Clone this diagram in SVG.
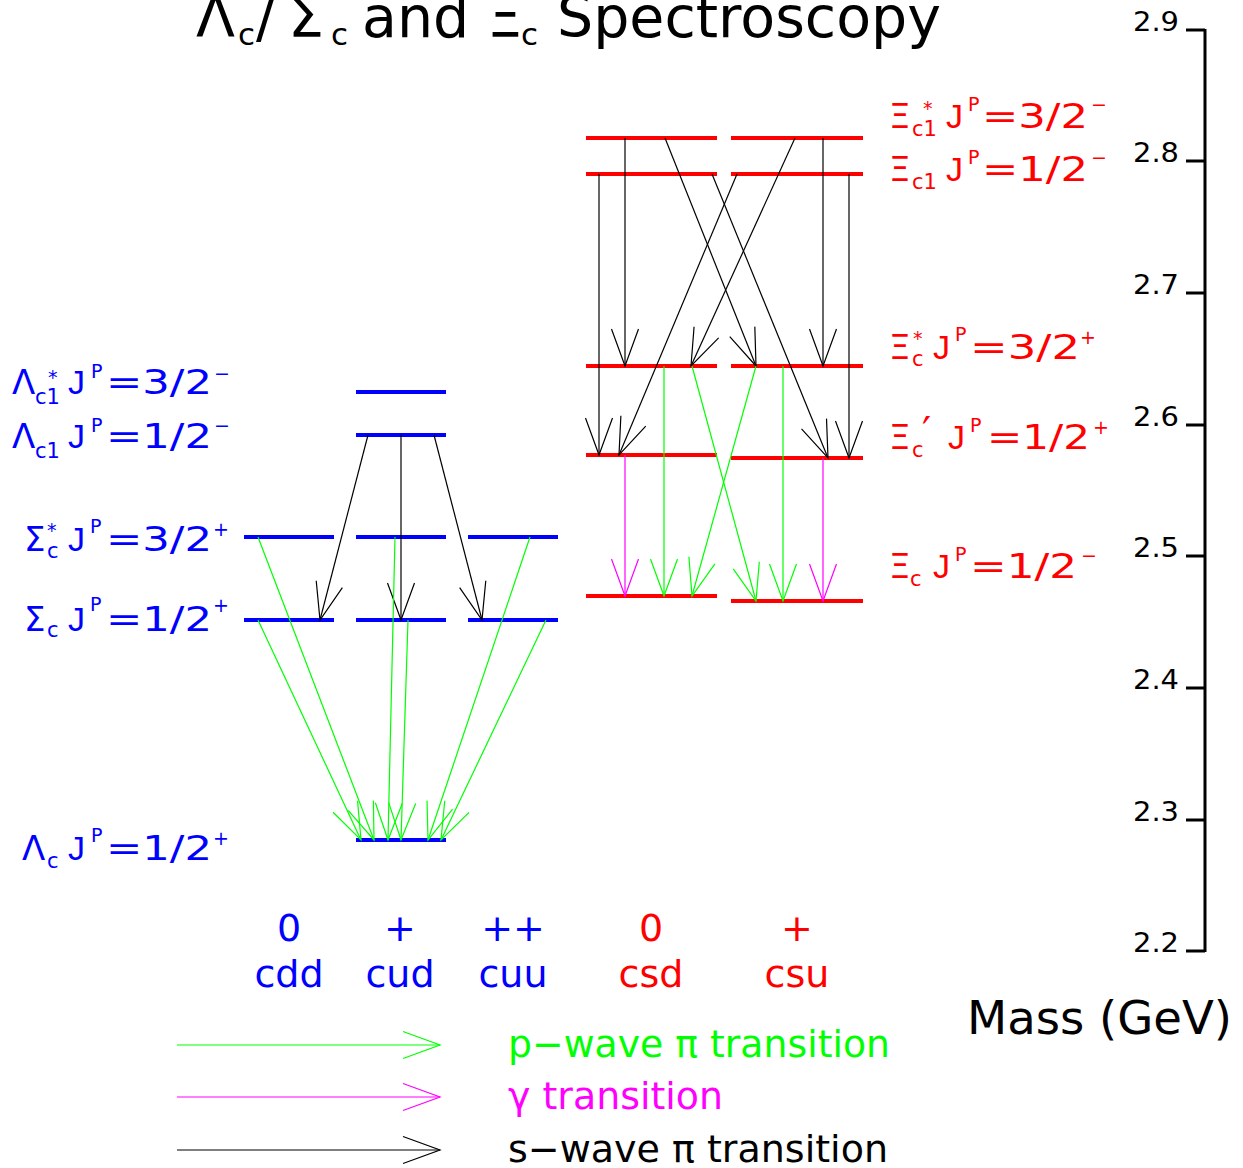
<svg xmlns="http://www.w3.org/2000/svg" width="1243" height="1168" viewBox="0 0 1243 1168">
<style>
text{font-family:"DejaVu Sans","Liberation Sans",sans-serif}
.title{font-size:57px;fill:#000}
.ts{font-size:31px}
.lv{font-size:34px}
.sb{font-size:21px}
.sp{font-size:19px}
.j{font-family:"Liberation Sans",sans-serif}
.b{fill:#0000ff}
.r{fill:#ff0000}
.bar{stroke-width:4;fill:none}
.bb{stroke:#0000ff}
.rb{stroke:#ff0000}
.cl{font-size:38px;text-anchor:middle}
.tick{font-size:27px;fill:#000}
.ax{stroke:#000;stroke-width:3;fill:none}
.c line{fill:none;stroke-width:1.2}
.g{stroke:#00ff00}
.m{stroke:#ff00ff}
.k{stroke:#000}
.lg{font-size:38px}
</style>
<defs>
<marker id="hg" viewBox="-40 -15 42 30" refX="0" refY="0" markerWidth="42" markerHeight="30" markerUnits="userSpaceOnUse" orient="auto" overflow="visible"><path d="M-37,-13.5 L0,0 L-37,13.5" fill="none" stroke="#00ff00" stroke-width="1.2"/></marker>
<marker id="hm" viewBox="-40 -15 42 30" refX="0" refY="0" markerWidth="42" markerHeight="30" markerUnits="userSpaceOnUse" orient="auto" overflow="visible"><path d="M-37,-13.5 L0,0 L-37,13.5" fill="none" stroke="#ff00ff" stroke-width="1.2"/></marker>
<marker id="hk" viewBox="-40 -15 42 30" refX="0" refY="0" markerWidth="42" markerHeight="30" markerUnits="userSpaceOnUse" orient="auto" overflow="visible"><path d="M-37,-13.5 L0,0 L-37,13.5" fill="none" stroke="#000000" stroke-width="1.2"/></marker>
</defs>
<rect x="0" y="0" width="1243" height="1168" fill="#ffffff"/>

<g id="title">
<text class="title"><tspan x="196" y="37">Λ</tspan><tspan class="ts" x="238" y="45">c</tspan><tspan x="256" y="37">/</tspan><tspan x="288" y="37">Σ</tspan><tspan class="ts" x="331" y="45">c </tspan><tspan x="362" y="37">and </tspan><tspan x="487" y="37">Ξ</tspan><tspan class="ts" x="521" y="45">c </tspan><tspan x="557" y="37">Spectroscopy</tspan></text>
</g>

<g id="axis">
<path class="ax" d="M1205,29 V952 M1186,30 H1205 M1186,161 H1205 M1186,293 H1205 M1186,425 H1205 M1186,556 H1205 M1186,688 H1205 M1186,820 H1205 M1186,951 H1205"/>
<text class="tick" x="1133" y="31" textLength="46" lengthAdjust="spacingAndGlyphs">2.9</text>
<text class="tick" x="1133" y="162" textLength="46" lengthAdjust="spacingAndGlyphs">2.8</text>
<text class="tick" x="1133" y="294" textLength="46" lengthAdjust="spacingAndGlyphs">2.7</text>
<text class="tick" x="1133" y="426" textLength="46" lengthAdjust="spacingAndGlyphs">2.6</text>
<text class="tick" x="1133" y="557" textLength="46" lengthAdjust="spacingAndGlyphs">2.5</text>
<text class="tick" x="1133" y="689" textLength="46" lengthAdjust="spacingAndGlyphs">2.4</text>
<text class="tick" x="1133" y="821" textLength="46" lengthAdjust="spacingAndGlyphs">2.3</text>
<text class="tick" x="1133" y="952" textLength="46" lengthAdjust="spacingAndGlyphs">2.2</text>
<text x="967" y="1034" font-size="47" textLength="265" lengthAdjust="spacingAndGlyphs" fill="#000">Mass (GeV)</text>
</g>

<g id="lambda_c1_star">
<path class="bar bb" d="M356,392 H446"/>
<text class="lv b"><tspan x="12" y="394">Λ</tspan><tspan class="sb" x="35" y="404">c1</tspan><tspan class="sp" x="48" y="384">* </tspan><tspan class="j" x="68" y="394">J</tspan><tspan class="sp" x="91" y="378">P</tspan><tspan x="106" y="394" textLength="106" lengthAdjust="spacingAndGlyphs">=3/2</tspan><tspan class="sp" x="214" y="380">−</tspan></text>
</g>
<g id="lambda_c1">
<path class="bar bb" d="M356,435 H446"/>
<text class="lv b"><tspan x="12" y="448">Λ</tspan><tspan class="sb" x="35" y="458">c1 </tspan><tspan class="j" x="68" y="448">J</tspan><tspan class="sp" x="91" y="432">P</tspan><tspan x="106" y="448" textLength="106" lengthAdjust="spacingAndGlyphs">=1/2</tspan><tspan class="sp" x="214" y="432">−</tspan></text>
</g>
<g id="sigma_c_star">
<path class="bar bb" d="M244,537 H334 M356,537 H446 M468,537 H558"/>
<text class="lv b"><tspan x="24" y="551">Σ</tspan><tspan class="sb" x="47" y="558">c</tspan><tspan class="sp" x="47" y="537">* </tspan><tspan class="j" x="68" y="551">J</tspan><tspan class="sp" x="90" y="533">P</tspan><tspan x="106" y="551" textLength="106" lengthAdjust="spacingAndGlyphs">=3/2</tspan><tspan class="sp" x="213" y="536">+</tspan></text>
</g>
<g id="sigma_c">
<path class="bar bb" d="M244,620 H334 M356,620 H446 M468,620 H558"/>
<text class="lv b"><tspan x="24" y="631">Σ</tspan><tspan class="sb" x="47" y="637">c </tspan><tspan class="j" x="68" y="631">J</tspan><tspan class="sp" x="90" y="611">P</tspan><tspan x="106" y="631" textLength="106" lengthAdjust="spacingAndGlyphs">=1/2</tspan><tspan class="sp" x="213" y="612">+</tspan></text>
</g>
<g id="lambda_c">
<path class="bar bb" d="M356,840 H446"/>
<text class="lv b"><tspan x="22" y="860">Λ</tspan><tspan class="sb" x="47" y="868">c </tspan><tspan class="j" x="68" y="860">J</tspan><tspan class="sp" x="91" y="842">P</tspan><tspan x="106" y="860" textLength="106" lengthAdjust="spacingAndGlyphs">=1/2</tspan><tspan class="sp" x="213" y="845">+</tspan></text>
</g>

<g id="xi_c1_star">
<path class="bar rb" d="M586,138 H717 M731,138 H863"/>
<text class="lv r"><tspan x="889" y="128">Ξ</tspan><tspan class="sb" x="912" y="136">c1</tspan><tspan class="sp" x="923" y="115">* </tspan><tspan class="j" x="946" y="128">J</tspan><tspan class="sp" x="968" y="111">P</tspan><tspan x="982" y="128" textLength="106" lengthAdjust="spacingAndGlyphs">=3/2</tspan><tspan class="sp" x="1091" y="111">−</tspan></text>
</g>
<g id="xi_c1">
<path class="bar rb" d="M586,174 H717 M731,174 H863"/>
<text class="lv r"><tspan x="889" y="181">Ξ</tspan><tspan class="sb" x="912" y="189">c1 </tspan><tspan class="j" x="946" y="181">J</tspan><tspan class="sp" x="968" y="164">P</tspan><tspan x="982" y="181" textLength="106" lengthAdjust="spacingAndGlyphs">=1/2</tspan><tspan class="sp" x="1091" y="164">−</tspan></text>
</g>
<g id="xi_c_star">
<path class="bar rb" d="M586,366 H717 M731,366 H863"/>
<text class="lv r"><tspan x="889" y="359">Ξ</tspan><tspan class="sb" x="912" y="366">c</tspan><tspan class="sp" x="913" y="345">* </tspan><tspan class="j" x="933" y="359">J</tspan><tspan class="sp" x="955" y="341">P</tspan><tspan x="970" y="359" textLength="110" lengthAdjust="spacingAndGlyphs">=3/2</tspan><tspan class="sp" x="1080" y="344">+</tspan></text>
</g>
<g id="xi_c_prime">
<path class="bar rb" d="M586,455 H717 M731,458 H863"/>
<text class="lv r"><tspan x="889" y="449">Ξ</tspan><tspan class="sb" x="912" y="457">c</tspan><tspan x="922" y="446" font-size="40">′ </tspan><tspan class="j" x="948" y="449">J</tspan><tspan class="sp" x="970" y="432">P</tspan><tspan x="987" y="449" textLength="103" lengthAdjust="spacingAndGlyphs">=1/2</tspan><tspan class="sp" x="1093" y="434">+</tspan></text>
</g>
<g id="xi_c">
<path class="bar rb" d="M586,596 H717 M731,601 H863"/>
<text class="lv r"><tspan x="889" y="578">Ξ</tspan><tspan class="sb" x="910" y="586">c </tspan><tspan class="j" x="933" y="578">J</tspan><tspan class="sp" x="955" y="561">P</tspan><tspan x="970" y="578" textLength="107" lengthAdjust="spacingAndGlyphs">=1/2</tspan><tspan class="sp" x="1081" y="562">−</tspan></text>
</g>

<g id="charges">
<text class="cl b" x="289" y="941">0</text>
<text class="cl b" x="400" y="941">+</text>
<text class="cl b" x="513" y="941">++</text>
<text class="cl r" x="651" y="941">0</text>
<text class="cl r" x="797" y="941">+</text>
<text class="cl b" x="289" y="987">cdd</text>
<text class="cl b" x="400" y="987">cud</text>
<text class="cl b" x="513" y="987">cuu</text>
<text class="cl r" x="651" y="987">csd</text>
<text class="cl r" x="797" y="987">csu</text>
</g>

<g id="connectors" class="c">
<line class="k" x1="368" y1="435" x2="320" y2="620" marker-end="url(#hk)"/>
<line class="k" x1="401" y1="435" x2="401" y2="620" marker-end="url(#hk)"/>
<line class="k" x1="434" y1="435" x2="482" y2="620" marker-end="url(#hk)"/>
<line class="k" x1="625" y1="138" x2="625" y2="366" marker-end="url(#hk)"/>
<line class="k" x1="665" y1="138" x2="756" y2="366" marker-end="url(#hk)"/>
<line class="k" x1="599" y1="174" x2="599" y2="455" marker-end="url(#hk)"/>
<line class="k" x1="712" y1="174" x2="828" y2="458" marker-end="url(#hk)"/>
<line class="k" x1="795" y1="138" x2="691" y2="366" marker-end="url(#hk)"/>
<line class="k" x1="737" y1="174" x2="619" y2="455" marker-end="url(#hk)"/>
<line class="k" x1="823" y1="138" x2="823" y2="366" marker-end="url(#hk)"/>
<line class="k" x1="849" y1="174" x2="849" y2="458" marker-end="url(#hk)"/>
<line class="g" x1="258" y1="537" x2="374" y2="840" marker-end="url(#hg)"/>
<line class="g" x1="258" y1="620" x2="361" y2="840" marker-end="url(#hg)"/>
<line class="g" x1="395" y1="537" x2="388" y2="840" marker-end="url(#hg)"/>
<line class="g" x1="408" y1="620" x2="401" y2="840" marker-end="url(#hg)"/>
<line class="g" x1="530" y1="537" x2="428" y2="840" marker-end="url(#hg)"/>
<line class="g" x1="546" y1="620" x2="441" y2="840" marker-end="url(#hg)"/>
<line class="g" x1="664" y1="366" x2="664" y2="596" marker-end="url(#hg)"/>
<line class="g" x1="692" y1="366" x2="756" y2="601" marker-end="url(#hg)"/>
<line class="g" x1="756" y1="366" x2="692" y2="596" marker-end="url(#hg)"/>
<line class="g" x1="783" y1="366" x2="783" y2="601" marker-end="url(#hg)"/>
<line class="m" x1="625" y1="455" x2="625" y2="596" marker-end="url(#hm)"/>
<line class="m" x1="823" y1="458" x2="823" y2="601" marker-end="url(#hm)"/>
</g>

<g id="legend" class="c">
<line class="g" x1="177" y1="1045" x2="440" y2="1045" marker-end="url(#hg)"/>
<line class="m" x1="177" y1="1097" x2="440" y2="1097" marker-end="url(#hm)"/>
<line class="k" x1="177" y1="1150" x2="440" y2="1150" marker-end="url(#hk)"/>
<text class="lg" x="508" y="1057" fill="#00ff00" textLength="382" lengthAdjust="spacingAndGlyphs">p−wave π transition</text>
<text class="lg" x="508" y="1109" fill="#ff00ff" textLength="215" lengthAdjust="spacingAndGlyphs">γ transition</text>
<text class="lg" x="508" y="1162" fill="#000000" textLength="380" lengthAdjust="spacingAndGlyphs">s−wave π transition</text>
</g>
</svg>
